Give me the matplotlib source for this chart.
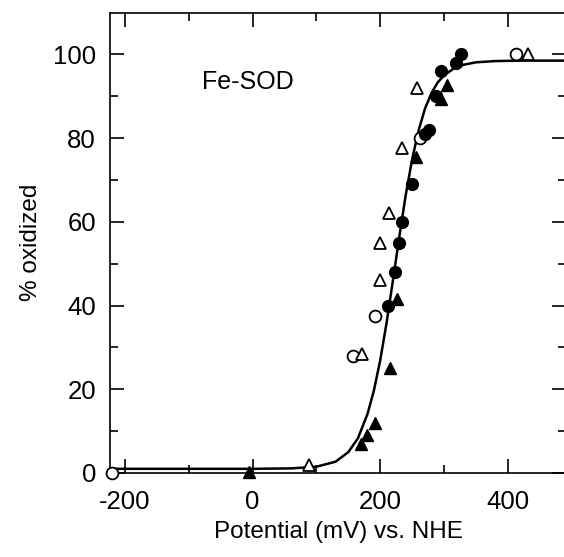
import matplotlib.pyplot as plt
import numpy as np

plt.rcParams['font.family'] = ['Liberation Sans', 'DejaVu Sans']
plt.rcParams['axes.unicode_minus'] = False

# open circles
oc_x = [-220, 157, 191, 263, 413]
oc_y = [0, 28, 37.5, 80, 100]
# open triangles
ot_x = [89, 172, 199, 200, 213, 234, 257, 431]
ot_y = [2, 28.5, 46, 55, 62, 77.6, 92, 100]
# filled circles
fc_x = [212, 223, 229, 234, 249, 270, 276, 287, 295, 318, 326]
fc_y = [40, 48, 55, 60, 69, 81, 82, 90, 96, 98, 100]
# filled triangles
ft_x = [-5, 170, 179, 191, 215, 226, 256, 295, 305]
ft_y = [0.3, 7, 9, 12, 25, 41.5, 75.5, 89.3, 92.6]

# fitted curve
curve_x = [-225, 0, 60, 100, 130, 150, 165, 180, 190, 200, 210, 220, 230, 240,
           250, 260, 270, 280, 290, 300, 315, 330, 350, 380, 420, 495]
curve_y = [1.0, 1.0, 1.1, 1.5, 2.7, 5.0, 8.3, 14.1, 19.7, 27.0, 36.0, 46.2, 56.6, 66.5,
           75.0, 81.8, 87.0, 90.7, 93.3, 95.0, 96.6, 97.5, 98.1, 98.4, 98.5, 98.5]

fig = plt.figure(figsize=(5.64, 5.57), dpi=100)
ax = fig.add_axes([110/564, 1 - 473/557, 456/564, 460.5/557])

ax.plot(curve_x, curve_y, color='black', lw=1.8, zorder=2)

ms = 8.5
ax.plot(oc_x, oc_y, 'o', ms=ms, mfc='white', mec='black', mew=1.3, clip_on=False, zorder=3)
ax.plot(ot_x, ot_y, '^', ms=ms, mfc='white', mec='black', mew=1.3, clip_on=False, zorder=3)
ax.plot(fc_x, fc_y, 'o', ms=ms, mfc='black', mec='black', clip_on=False, zorder=3)
ax.plot(ft_x, ft_y, '^', ms=ms, mfc='black', mec='black', clip_on=False, zorder=3)

ax.set_xlim(-223.5, 491)
ax.set_ylim(0, 110)
ax.set_xticks([-200, 0, 200, 400])
ax.set_xticks([-100, 100, 300], minor=True)
ax.set_yticks([0, 20, 40, 60, 80, 100])
ax.set_yticks([10, 30, 50, 70, 90], minor=True)
ax.tick_params(which='both', direction='in', top=True, right=True, width=1.2, labelsize=18.5)
ax.tick_params(which='major', length=10, pad=12)
ax.tick_params(axis='y', which='major', pad=10)
ax.tick_params(which='minor', length=6)
for s in ax.spines.values():
    s.set_linewidth(1.2)

ax.text(-7, 93.3, 'Fe-SOD', fontsize=18, ha='center', va='center')
ax.set_xlabel('Potential (mV) vs. NHE', fontsize=17.5, labelpad=5)
ax.set_ylabel('% oxidized', fontsize=17.5, labelpad=8)

fig.savefig('out.png', dpi=100)
